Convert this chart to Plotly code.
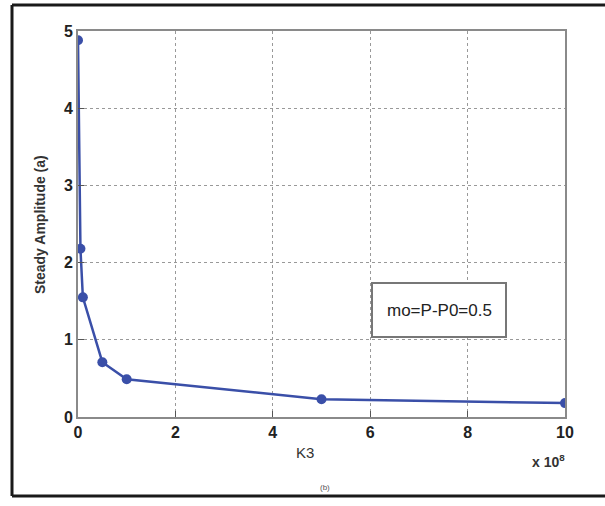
import plotly.graph_objects as go

k3 = [0, 0.05, 0.1, 0.5, 1, 5, 10]
amplitude = [4.88, 2.18, 1.55, 0.71, 0.49, 0.23, 0.18]
x_ticks = [0, 2, 4, 6, 8, 10]
y_ticks = [0, 1, 2, 3, 4, 5]

W, H = 605, 506
L, R, T, B = 78, 40, 31, 89
pw, ph = W - L - R, H - T - B

def px(x):
    return (x - L) / pw

def py(y):
    return (H - B - y) / ph

fig = go.Figure()
fig.add_trace(go.Scatter(
    x=k3, y=amplitude, mode="lines+markers",
    line=dict(color="#3a4fa8", width=2.5),
    marker=dict(color="#3a4fa8", size=10),
    showlegend=False,
))

axis_common = dict(
    showline=True, linecolor="#8a8a8a", linewidth=2, mirror=True,
    ticks="inside", ticklen=6, tickcolor="#555555",
    showgrid=True, gridcolor="#999999", griddash="dot", gridwidth=1,
    zeroline=False,
    tickfont=dict(family="Liberation Sans", size=16, color="#222222", weight="bold"),
)

fig.update_layout(
    width=W, height=H,
    margin=dict(l=L, r=R, t=T, b=B),
    paper_bgcolor="white", plot_bgcolor="white",
    xaxis=dict(range=[0, 10], tickvals=x_ticks, ticktext=[str(v) for v in x_ticks], **axis_common),
    yaxis=dict(range=[0, 5], tickvals=y_ticks, ticktext=[str(v) for v in y_ticks], **axis_common),
)

def note(x, y, text, size, weight="normal", color="#333333", angle=0):
    fig.add_annotation(xref="paper", yref="paper", x=px(x), y=py(y), text=text,
                       textangle=angle, showarrow=False, xanchor="center", yanchor="middle",
                       font=dict(family="Liberation Sans", size=size, color=color, weight=weight))

note(40, 225, "Steady Amplitude (a)", 14, "bold", angle=-90)
note(305, 453, "K3", 15)
note(548, 461, "x 10<sup>8</sup>", 14, "bold")
note(325, 487, "(b)", 8, color="#555555")
note(439, 310, "mo=P-P0=0.5", 17, color="#222222")

# text box
fig.add_shape(type="rect", xref="paper", yref="paper",
              x0=px(372), x1=px(506), y0=py(337), y1=py(283),
              line=dict(color="#777777", width=2), fillcolor="white", layer="above")

# outer frame (top, left, bottom)
for x0, y0, x1, y1 in [(12, 5, 605, 5), (12, 5, 12, 496), (12, 496, 605, 496)]:
    fig.add_shape(type="line", xref="paper", yref="paper",
                  x0=px(x0), y0=py(y0), x1=px(x1), y1=py(y1),
                  line=dict(color="#1a1a1a", width=3))

fig.write_html("out.html")
